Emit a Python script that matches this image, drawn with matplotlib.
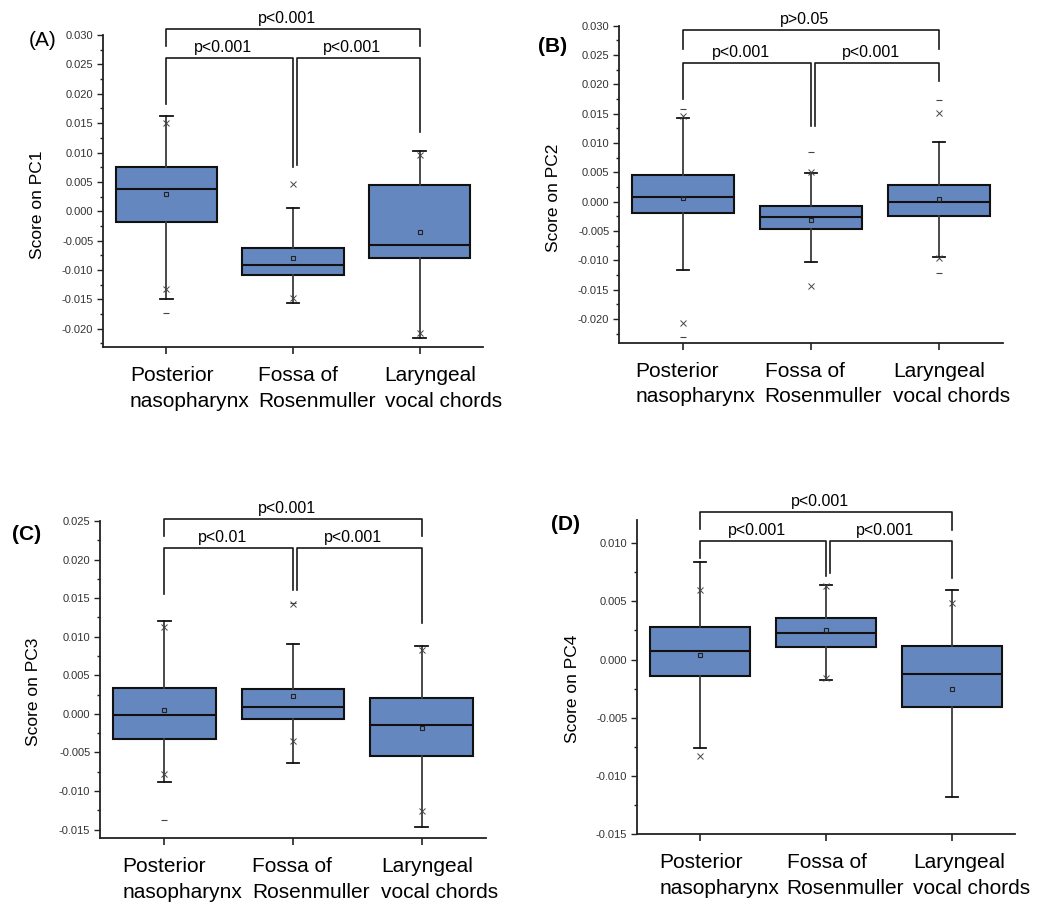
import numpy as np
import matplotlib
matplotlib.use('Agg')
import matplotlib.pyplot as plt
from matplotlib.ticker import AutoMinorLocator, FormatStrFormatter, MultipleLocator
from matplotlib.transforms import offset_copy

plt.rcParams['font.family'] = ['Liberation Sans', 'DejaVu Sans']

categories = ['Posterior\nnasopharynx', 'Fossa of\nRosenmuller', 'Laryngeal\nvocal chords']
nan = np.nan

# PC1 box statistics per site
pc1_q1 = [-0.0018, -0.0109, -0.0080]
pc1_med = [0.0038, -0.0091, -0.0057]
pc1_q3 = [0.0075, -0.0063, 0.0044]
pc1_mean = [0.0029, -0.0080, -0.0036]
pc1_whislo = [-0.0150, -0.0156, -0.0216]
pc1_whishi = [0.0162, 0.0006, 0.0102]
pc1_p01 = [-0.0132, -0.0147, -0.0207]
pc1_p99 = [0.0151, 0.0047, 0.0095]
pc1_min = [-0.0173, nan, nan]
pc1_max = [nan, nan, nan]

# PC2
pc2_q1 = [-0.0020, -0.0046, -0.0024]
pc2_med = [0.0008, -0.0027, -0.0001]
pc2_q3 = [0.0045, -0.0008, 0.0028]
pc2_mean = [0.0007, -0.0031, 0.0005]
pc2_whislo = [-0.0116, -0.0103, -0.0095]
pc2_whishi = [0.0142, 0.0048, 0.0101]
pc2_p01 = [-0.0207, -0.0143, -0.0096]
pc2_p99 = [0.0146, 0.0051, 0.0151]
pc2_min = [-0.0231, nan, -0.0122]
pc2_max = [0.0158, 0.0084, 0.0173]

# PC3
pc3_q1 = [-0.0033, -0.0007, -0.0055]
pc3_med = [-0.0001, 0.0009, -0.0014]
pc3_q3 = [0.0034, 0.0032, 0.0020]
pc3_mean = [0.0005, 0.0023, -0.0018]
pc3_whislo = [-0.0089, -0.0064, -0.0147]
pc3_whishi = [0.0120, 0.0090, 0.0088]
pc3_p01 = [-0.0078, -0.0035, -0.0126]
pc3_p99 = [0.0112, 0.0142, 0.0083]
pc3_min = [-0.0138, nan, nan]
pc3_max = [nan, 0.0144, nan]

# PC4
pc4_q1 = [-0.0014, 0.0011, -0.0041]
pc4_med = [0.0007, 0.0023, -0.0012]
pc4_q3 = [0.0028, 0.0036, 0.0012]
pc4_mean = [0.0004, 0.0025, -0.0025]
pc4_whislo = [-0.0076, -0.0018, -0.0118]
pc4_whishi = [0.0084, 0.0064, 0.0060]
pc4_p01 = [-0.0083, -0.0016, nan]
pc4_p99 = [0.0060, 0.0063, 0.0049]
pc4_min = [nan, nan, nan]
pc4_max = [nan, nan, nan]

# significance brackets: (bar height, left leg end, right leg end)
pc1_brackets = [(0.0310, 0.0282, 0.0281), (0.0261, 0.0183, 0.0075), (0.0261, 0.0078, 0.0135)]
pc2_brackets = [(0.0293, 0.0260, 0.0261), (0.0236, 0.0175, 0.0129), (0.0236, 0.0129, 0.0205)]
pc3_brackets = [(0.0253, 0.0231, 0.0230), (0.0215, 0.0155, 0.0161), (0.0215, 0.0160, 0.0118)]
pc4_brackets = [(0.0127, 0.0112, 0.0111), (0.0102, 0.0087, 0.0072), (0.0102, 0.0074, 0.0070)]
pc1_pvals = ['p<0.001', 'p<0.001', 'p<0.001']
pc2_pvals = ['p>0.05', 'p<0.001', 'p<0.001']
pc3_pvals = ['p<0.001', 'p<0.01', 'p<0.001']
pc4_pvals = ['p<0.001', 'p<0.001', 'p<0.001']

BOX_COLOR = '#6587bf'
LINE_COLOR = '#3a3a3a'
W, H = 1049, 906


def draw_panel(ax, q1, med, q3, mean, whislo, whishi, p01, p99, vmin, vmax,
               brackets, pvals, ylabel, ylim, ymajor, label_y, label_shift):
    x = np.arange(1, len(categories) + 1)
    stats = [
        dict(q1=a, med=b, q3=c, mean=d, whislo=e, whishi=f, fliers=[])
        for a, b, c, d, e, f in zip(q1, med, q3, mean, whislo, whishi)
    ]
    ax.bxp(
        stats, positions=x, widths=0.8, showmeans=True, patch_artist=True,
        boxprops=dict(facecolor=BOX_COLOR, edgecolor='#111111', linewidth=1.5),
        medianprops=dict(color='#111111', linewidth=1.5),
        whiskerprops=dict(color=LINE_COLOR, linewidth=1.3),
        capprops=dict(color='#111111', linewidth=1.3),
        meanprops=dict(marker='s', markersize=3.2, markerfacecolor='none',
                       markeredgecolor='#222222', markeredgewidth=0.8),
        capwidths=0.1,
    )
    ax.plot(x, p01, 'x', ms=4, mew=0.7, color='#444444')
    ax.plot(x, p99, 'x', ms=4, mew=0.7, color='#444444')
    ax.plot(x, vmin, '_', ms=4, mew=0.8, color='#444444')
    ax.plot(x, vmax, '_', ms=4, mew=0.8, color='#444444')

    # significance brackets: outer 1-3, inner 1-2 and 2-3
    spans = [(1.0, 3.0), (1.0, 2.0), (2.03, 3.0)]
    for (xl, xr), (bar, yl, yr), txt in zip(spans, brackets, pvals):
        ax.plot([xl, xl, xr, xr], [yl, bar, bar, yr], color='#1a1a1a',
                linewidth=1.2, clip_on=False)
        ax.annotate(txt, xy=((xl + xr) / 2 - 0.05, bar), xytext=(0, 2),
                    textcoords='offset points', ha='center', va='bottom',
                    fontsize=11.5, annotation_clip=False)

    ax.set_xlim(0.5, 3.5)
    ax.set_ylim(*ylim)
    ax.set_xticks(x)
    ax.set_xticklabels([])
    # two-line category names, lines left-aligned within each block
    label_trans = offset_copy(ax.get_xaxis_transform(), fig=ax.figure,
                              x=label_shift, y=-13.5, units='points')
    for xi, name in zip(x, categories):
        ax.text(xi, 0, name, transform=label_trans, ha='center', va='top',
                multialignment='left', fontsize=15, linespacing=1.45)

    ax.yaxis.set_major_locator(MultipleLocator(ymajor))
    ax.yaxis.set_minor_locator(AutoMinorLocator(2))
    ax.yaxis.set_major_formatter(FormatStrFormatter('%.3f'))
    ax.tick_params(axis='y', which='major', length=4, width=1, labelsize=8,
                   labelcolor='#333333', color='#222222', pad=3)
    ax.tick_params(axis='y', which='minor', length=2.5, width=1, color='#222222')
    ax.tick_params(axis='x', which='major', length=5, width=1.2,
                   color='#222222')
    for side in ('top', 'right'):
        ax.spines[side].set_visible(False)
    for side in ('left', 'bottom'):
        ax.spines[side].set_linewidth(1.3)
        ax.spines[side].set_color('#222222')
    ax.set_ylabel(ylabel, fontsize=12.5)
    ax.yaxis.set_label_coords(-0.152, label_y)


def px_axes(fig, left, right, top, bottom):
    return fig.add_axes([left / W, 1 - bottom / H, (right - left) / W, (bottom - top) / H])


fig = plt.figure(figsize=(W / 100, H / 100), dpi=100)

ax_a = px_axes(fig, 103, 483, 35, 347)
draw_panel(ax_a, pc1_q1, pc1_med, pc1_q3, pc1_mean, pc1_whislo, pc1_whishi,
           pc1_p01, pc1_p99, pc1_min, pc1_max, pc1_brackets, pc1_pvals,
           'Score on PC1', (-0.0231, 0.030), 0.005, 0.455, 17)

ax_b = px_axes(fig, 619, 1003, 25.7, 343)
draw_panel(ax_b, pc2_q1, pc2_med, pc2_q3, pc2_mean, pc2_whislo, pc2_whishi,
           pc2_p01, pc2_p99, pc2_min, pc2_max, pc2_brackets, pc2_pvals,
           'Score on PC2', (-0.0241, 0.030), 0.005, 0.459, 9)

ax_c = px_axes(fig, 100, 486, 521, 838)
draw_panel(ax_c, pc3_q1, pc3_med, pc3_q3, pc3_mean, pc3_whislo, pc3_whishi,
           pc3_p01, pc3_p99, pc3_min, pc3_max, pc3_brackets, pc3_pvals,
           'Score on PC3', (-0.0161, 0.025), 0.005, 0.462, 13)

ax_d = px_axes(fig, 637, 1015, 520, 834)
draw_panel(ax_d, pc4_q1, pc4_med, pc4_q3, pc4_mean, pc4_whislo, pc4_whishi,
           pc4_p01, pc4_p99, pc4_min, pc4_max, pc4_brackets, pc4_pvals,
           'Score on PC4', (-0.015, 0.012), 0.005, 0.462, 14)

# panel letters
fig.text(29 / W, 1 - 40 / H, '(A)', fontsize=15, va='center', ha='left')
fig.text(538 / W, 1 - 46 / H, '(B)', fontsize=15, fontweight='bold', va='center', ha='left')
fig.text(12 / W, 1 - 534 / H, '(C)', fontsize=15, fontweight='bold', va='center', ha='left')
fig.text(551 / W, 1 - 524 / H, '(D)', fontsize=15, fontweight='bold', va='center', ha='left')

fig.savefig('out.png', dpi=100)
